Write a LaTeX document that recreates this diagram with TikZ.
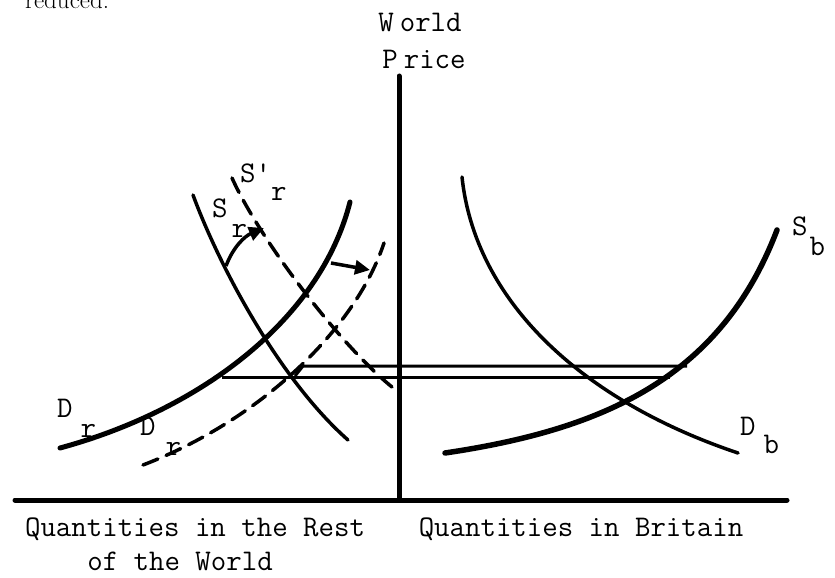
\documentclass[tikz,border=0pt]{standalone}
\usepackage{fontspec}
\usetikzlibrary{arrows.meta}
\begin{document}
\begin{tikzpicture}[
x=1pt,y=-1pt,
every node/.style={inner sep=0pt,font=\fontsize{30}{36}\selectfont\ttfamily},
curvelabel/.style={anchor=base west},
axisline/.style={line width=5pt,line cap=round},
curve/.style={line width=3.5pt,line cap=round},
shiftedcurve/.style={curve,dash pattern=on 16pt off 9pt},
priceline/.style={line width=3pt},
movearrow/.style={line width=3.5pt,-{Triangle[length=15pt,width=14pt]}}
]
\useasboundingbox (0,0) rectangle (835,578);
\clip (0,0) rectangle (835,578);

\node (reduced) [anchor=base west,font=\fontsize{25}{30}\selectfont\rmfamily] at (25,9) {reduced.};

\coordinate (ytop) at (399,76);
\coordinate (origin) at (399,500);
\coordinate (xleft) at (15,500);
\coordinate (xright) at (787,500);
\draw[axisline] (ytop) -- (origin);
\draw[axisline] (xleft) -- (xright);

\node (world) [anchor=base] at (420,32) {W\kern6pt orld};
\node (price) [anchor=base] at (424,68) {P\kern6pt rice};
\node (qrest) [anchor=base] at (195,536) {Quantities in the Rest};
\node (qworld) [anchor=base] at (180,570) {of the World};
\node (qbritain) [anchor=base] at (581,536) {Quantities in Britain};

% rest of the world
\draw[curve,line width=5pt] (60,448) .. controls (200,410) and (320,320) .. (350,202);
\draw[curve] (193,195) .. controls (220,268) and (280,380) .. (348,440);
\draw[shiftedcurve] (232,178) .. controls (260,240) and (340,345) .. (392,387);
\draw[shiftedcurve] (143,465) .. controls (260,420) and (355,330) .. (384,243);

\node (sr) [curvelabel] at (212,217) {S\kern4pt\raisebox{-20pt}{r}};
\node (srnew) [curvelabel] at (240,182) {S'\raisebox{-18pt}{r}};
\node (dr) [curvelabel] at (57,417) {D\kern8pt\raisebox{-20pt}{r}};
\node (drnew) [curvelabel] at (140,435) {D\kern10pt\raisebox{-20pt}{r}};

\coordinate (srfoot) at (226,266);
\coordinate (srtip) at (264,228);
\draw[movearrow] (srfoot) .. controls (233,247) and (245,236) .. (srtip);
\coordinate (drfoot) at (331,263);
\coordinate (drtip) at (370,270);
\draw[movearrow] (drfoot) -- (drtip);

% britain
\draw[curve] (462,177) .. controls (475,300) and (580,400) .. (738,453);
\draw[curve,line width=5.5pt] (445,453) .. controls (600,430) and (720,380) .. (777,230);

\node (sb) [curvelabel] at (792,235) {S\kern2pt\raisebox{-20pt}{b}};
\node (db) [curvelabel] at (740,435) {D\kern8pt\raisebox{-18pt}{b}};

% world prices
\coordinate (lowleft) at (222,377);
\coordinate (lowright) at (670,377);
\coordinate (highfoot) at (295,376);
\coordinate (highbend) at (303,366);
\coordinate (highright) at (687,366);
\draw[priceline] (lowleft) -- (lowright);
\draw[priceline] (highfoot) -- (highbend) -- (highright);
\end{tikzpicture}
\end{document}
